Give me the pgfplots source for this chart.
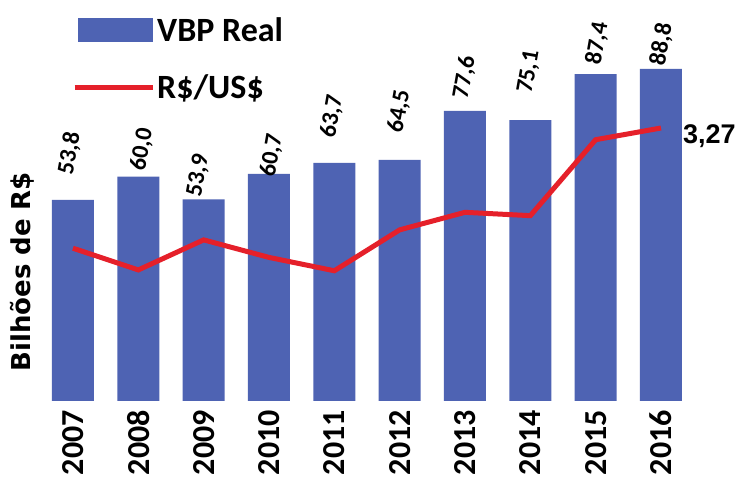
\documentclass[border=0pt]{standalone}
\usepackage{fontspec}
\setmainfont{Carlito}
\newfontfamily\cb{Carlito}
\newfontfamily\dv{DejaVu Sans}
\newfontfamily\lib{Liberation Sans}
\usepackage{pgfplots}
\pgfplotsset{compat=1.18}
\definecolor{barblue}{HTML}{4E63B3}
\definecolor{linered}{HTML}{E5202A}
\tikzset{lbl/.style={font=\cb\bfseries\fontsize{24}{24}\selectfont, text=black, inner sep=0pt}}
\begin{document}
\begin{tikzpicture}
\useasboundingbox (0,0) rectangle (737pt,490pt);
\begin{axis}[
  at={(53.4pt,89pt)}, anchor=south west,
  scale only axis, width=627.2pt, height=392.7pt,
  xmin=-0.3, xmax=9.3, ymin=0, ymax=105,
  axis line style={draw=none},
  major tick length=0pt,
  ytick=\empty,
  xtick={0,...,9},
  xticklabels={2007,2008,2009,2010,2011,2012,2013,2014,2015,2016},
  xticklabel style={yshift=-9pt, rotate=90, anchor=east, inner sep=0pt,
    font=\cb\bfseries\fontsize{32}{32}\selectfont},
  ylabel={Bilhões de R\$},
  every axis y label/.style={at={(axis description cs:-0.050,0.329)}, rotate=90, anchor=center,
    font=\dv\bfseries\fontsize{26}{26}\selectfont},
  clip=false,
  legend style={at={(axis description cs:0.0297,0.982)}, anchor=north west, draw=none, fill=none,
    font=\cb\bfseries\fontsize{34}{34}\selectfont, row sep=28pt, inner sep=0pt,
    nodes={inner sep=2pt}},
  legend cell align=left,
]
\addplot[ybar, bar width=42pt, fill=barblue, draw=none,
  legend image code/.code={\fill[barblue] (0pt,-12pt) rectangle (75pt,12pt);}
] coordinates {
  (0,53.8) (1,60.0) (2,53.9) (3,60.7) (4,63.7) (5,64.5) (6,77.6) (7,75.1) (8,87.4) (9,88.8)
};
\addlegendentry{VBP Real}
\addlegendimage{legend image code/.code={\draw[linered, line width=5pt] (-3pt,0pt) -- (75pt,0pt);}}
\addlegendentry{R\$/US\$}
\node[lbl, xshift=-7pt, yshift=25pt, rotate=80, anchor=west] at (axis cs:0,53.8) {53,8};
\node[lbl, xshift=0pt,  yshift=6pt,  rotate=80, anchor=west] at (axis cs:1,60.0) {60,0};
\node[lbl, xshift=-9pt, yshift=3pt,  rotate=80, anchor=west] at (axis cs:2,53.9) {53,9};
\node[lbl, xshift=-1pt, yshift=-3pt, rotate=80, anchor=west] at (axis cs:3,60.7) {60,7};
\node[lbl, xshift=-6pt, yshift=25pt, rotate=80, anchor=west] at (axis cs:4,63.7) {63,7};
\node[lbl, xshift=-4pt, yshift=27pt, rotate=80, anchor=west] at (axis cs:5,64.5) {64,5};
\node[lbl, xshift=-4pt, yshift=12pt, rotate=80, anchor=west] at (axis cs:6,77.6) {77,6};
\node[lbl, xshift=-5pt, yshift=27pt, rotate=80, anchor=west] at (axis cs:7,75.1) {75,1};
\node[lbl, xshift=-2pt, yshift=10pt, rotate=80, anchor=west] at (axis cs:8,87.4) {87,4};
\node[lbl, xshift=-3pt, yshift=3pt,  rotate=80, anchor=west] at (axis cs:9,88.8) {88,8};
\end{axis}
\begin{axis}[
  at={(53.4pt,89pt)}, anchor=south west,
  scale only axis, width=627.2pt, height=392.7pt,
  xmin=-0.3, xmax=9.3, ymin=0, ymax=4.704,
  hide axis, clip=false,
]
\addplot[linered, line width=5pt, mark=none] coordinates {
  (0,1.83) (1,1.57) (2,1.93) (3,1.72) (4,1.56) (5,2.05) (6,2.26) (7,2.22) (8,3.13) (9,3.27)
};
\node[anchor=west, font=\lib\bfseries\fontsize{27}{27}\selectfont, inner sep=0pt, xshift=22pt, yshift=-8pt]
  at (axis cs:9,3.27) {3,27};
\end{axis}
\end{tikzpicture}
\end{document}
